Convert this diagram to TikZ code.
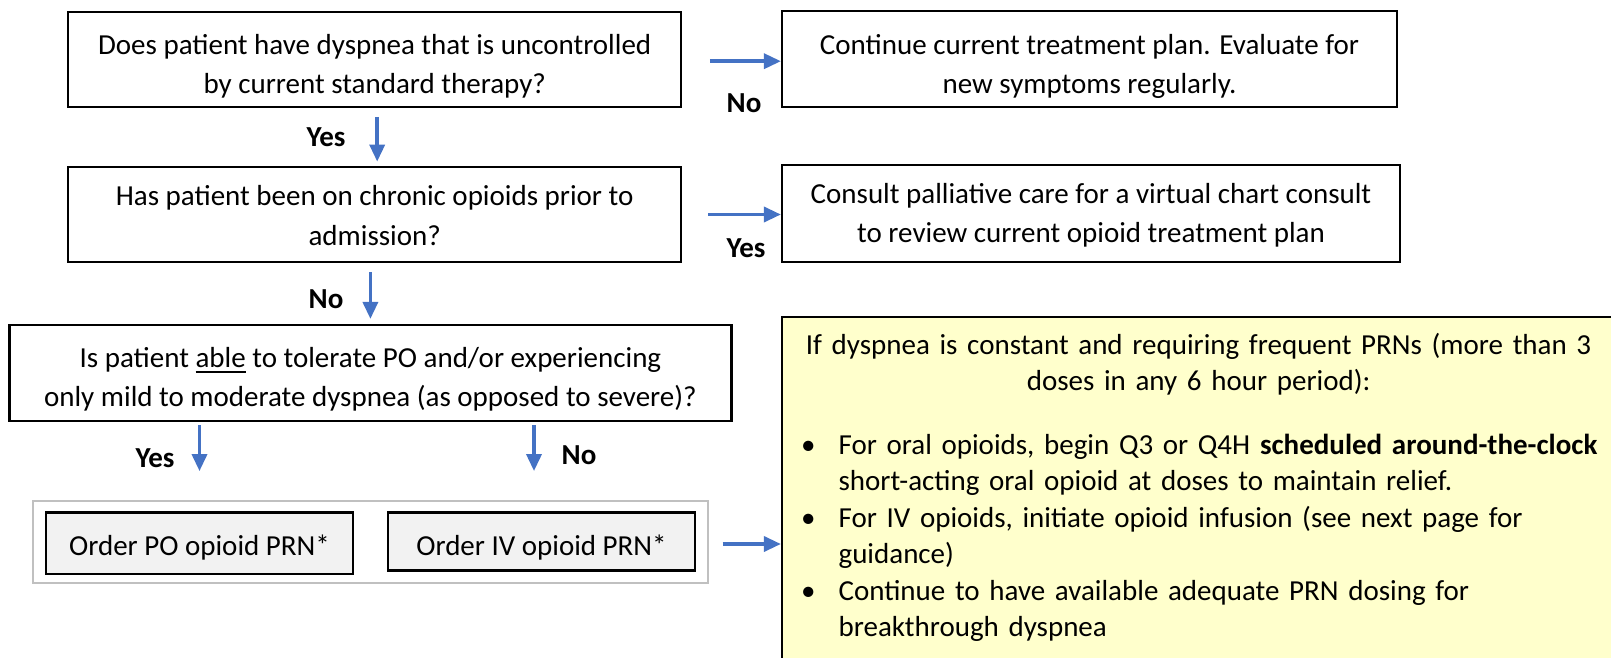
\documentclass[tikz,border=0pt]{standalone}
\usepackage{fontspec}
\setmainfont{Carlito}
\usetikzlibrary{arrows.meta}
\definecolor{arrblue}{HTML}{4472C4}
\definecolor{ylw}{HTML}{FFFFCC}
\definecolor{boxgray}{HTML}{F2F2F2}
\definecolor{frgray}{HTML}{C0C0C0}
\newcommand\upst[1]{\rule{0pt}{#1pt}}
\newcommand\dnst{\rule[-8pt]{0pt}{8pt}}
\newcommand\myul[1]{\setbox0\hbox{#1}\rlap{\rule[-5.5pt]{\wd0}{1.8pt}}#1}
\newcommand\mybul{\leavevmode\llap{\textbullet\hspace{23pt}}}
\begin{document}
\begin{tikzpicture}[x=1pt,y=-1pt,
  qbox/.style={draw=black, line width=2.2pt, fill=white, align=center, inner sep=0pt,
    font=\fontsize{29}{39.5}\selectfont},
  arr/.style={draw=arrblue, line width=3.5pt, -{Triangle[length=17pt,width=15pt]}},
  lbl/.style={font=\fontsize{29}{35}\selectfont\bfseries, inner sep=0pt},
  obox/.style={draw=black, line width=2.5pt, fill=boxgray, inner sep=0pt,
    font=\fontsize{29}{35}\selectfont, text depth=7pt},
  frame/.style={draw=frgray, line width=2pt, fill=white, inner sep=0pt},
  ybox/.style={draw=black, line width=2.2pt, fill=ylw, inner sep=0pt}]
\useasboundingbox (0,0) rectangle (1611,658);

% question boxes
\node[qbox, minimum width=613pt, minimum height=95pt] (b1) at (374.7,59.2)
  {\upst{37.7}Does patient have dyspnea that is uncontrolled\\by current standard therapy?\dnst};
\node[qbox, minimum width=615pt, minimum height=96pt] (r1) at (1089.5,59)
  {\upst{37.7}Continue current treatment plan. Evaluate for\\new symptoms regularly.\dnst};
\node[qbox, minimum width=613pt, minimum height=95.6pt] (b2) at (374.7,214.5)
  {\upst{29.9}Has patient been on chronic opioids prior to\\admission?\dnst};
\node[qbox, minimum width=618pt, minimum height=97pt] (r2) at (1091,213.7)
  {\upst{26.7}Consult palliative care for a virtual chart consult\\to review current opioid treatment plan\dnst};
\node[qbox, minimum width=722pt, minimum height=96pt] (b3) at (370.4,373)
  {\upst{36.1}Is patient \myul{able} to tolerate PO and/or experiencing\\only mild to moderate dyspnea (as opposed to severe)?\dnst};

% order boxes
\node[frame, minimum width=675pt, minimum height=82pt] (grp) at (370.8,541.7) {};
\node[obox, minimum width=307pt, minimum height=61.7pt, text height=30.6pt] (po) at (199.5,543.2)
  {Order PO opioid PRN*};
\node[obox, minimum width=307pt, minimum height=58.4pt, text height=34pt] (iv) at (541.5,541.5)
  {Order IV opioid PRN*\hspace{14pt}};

% yellow box
\node[ybox, minimum width=835pt, minimum height=383pt] (yb) at (1199.5,508.5) {};
\node[anchor=north west, inner sep=0pt, text width=835pt, font=\fontsize{29}{36.5}\selectfont] (yt) at (yb.north west)
  {\setlength\parskip{0pt}\setlength\parindent{0pt}%
   {\centering\upst{38}If dyspnea is constant and requiring frequent PRNs (more than 3\\doses in any 6 hour period):\par}%
   \vspace{27pt}%
   {\raggedright\leftskip=57.5pt\relax
    \mybul For oral opioids, begin Q3 or Q4H \textbf{scheduled around-the-clock}\\short-acting oral opioid at doses to maintain relief.\par
    \mybul For IV opioids, initiate opioid infusion (see next page for\\guidance)\par
    \mybul Continue to have available adequate PRN dosing for\\breakthrough dyspnea\par}};

% labels
\node[lbl] (lno1) at (744,103) {No};
\node[lbl] (lyes1) at (326,137) {Yes};
\node[lbl] (lyes2) at (746,248) {Yes};
\node[lbl] (lno2) at (326,299) {No};
\node[lbl] (lyes3) at (155,458) {Yes};
\node[lbl] (lno3) at (579,455) {No};

% connectors
\draw[arr, shorten <=27.5pt] ([yshift=-2pt]b1.east) -- ([yshift=-2pt]b1.east -| r1.west);
\draw[arr, shorten <=26pt] (b2.east) -- (b2.east -| r2.west);
\draw[arr, shorten <=13.4pt] ([yshift=-2.3pt]grp.east) -- ([yshift=-2.3pt]grp.east -| yb.west);
\coordinate (a1) at ([xshift=2.5pt]b1.south);
\draw[arr, shorten <=9pt, shorten >=4pt] (a1) -- (a1 |- b2.north);
\draw[arr, shorten <=9pt, shorten >=5pt] (b3.north |- b2.south) -- (b3.north);
\draw[arr, shorten <=3pt, shorten >=40pt] (po.north |- b3.south) -- (po.north);
\coordinate (a3) at ([xshift=-7.5pt]iv.north);
\draw[arr, shorten <=3pt, shorten >=40pt] (a3 |- b3.south) -- (a3);
\end{tikzpicture}
\end{document}
